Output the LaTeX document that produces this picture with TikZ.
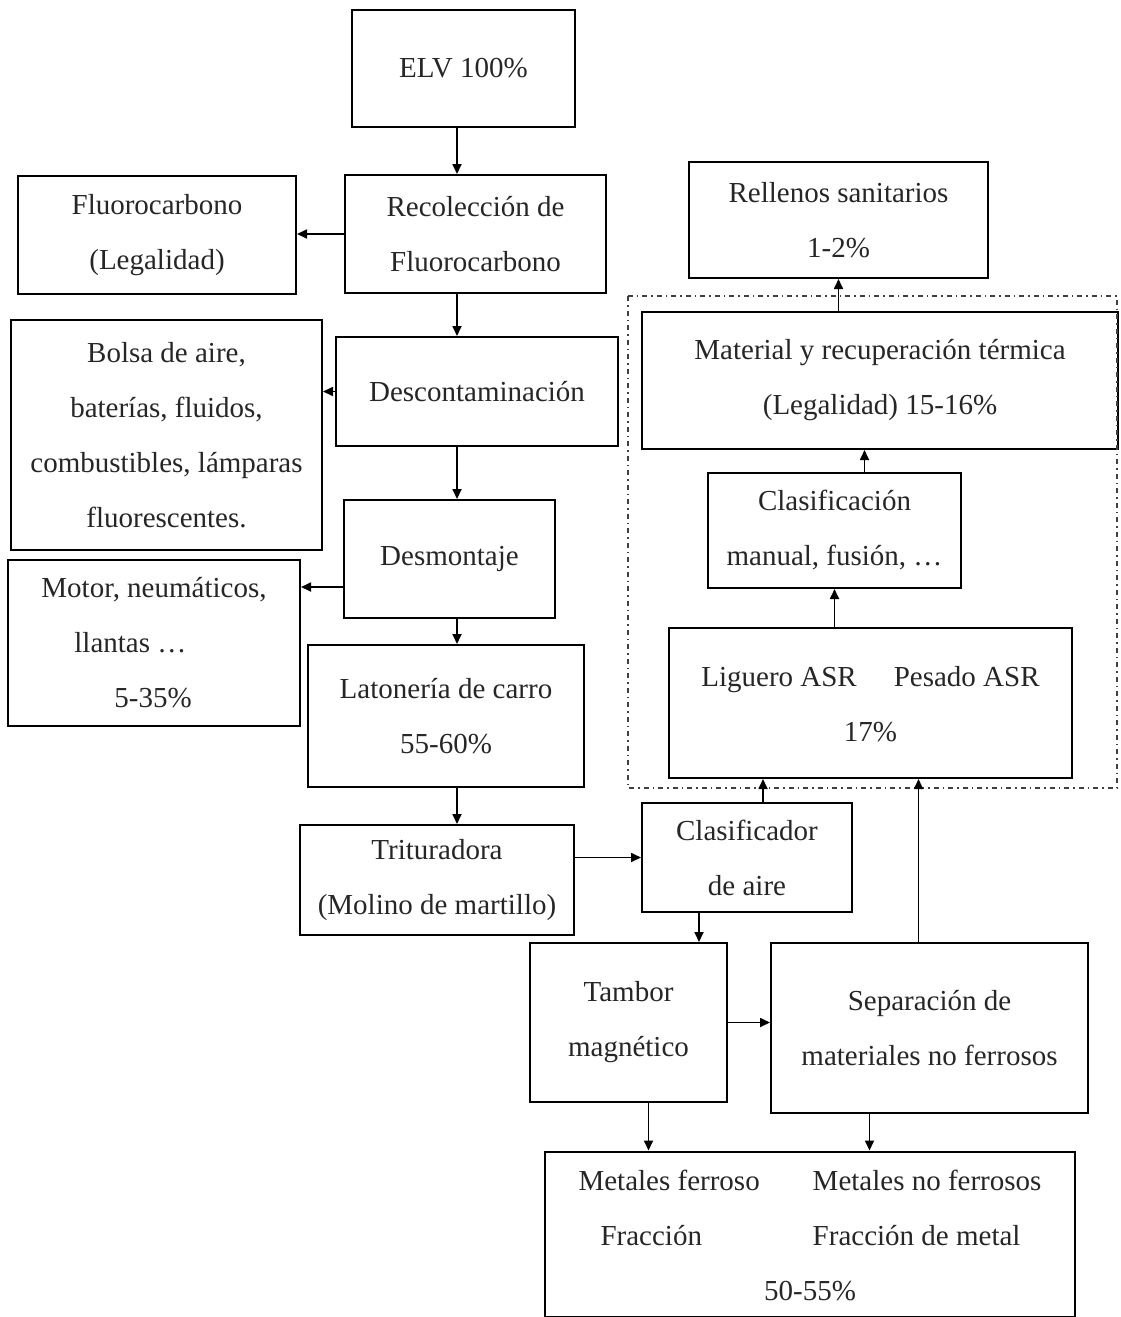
\documentclass[tikz,border=0pt]{standalone}
\usepackage{fontspec}
\setmainfont{Liberation Serif}
\usetikzlibrary{arrows.meta,calc}
\tikzset{
  box/.style={draw, line width=2pt, inner sep=0pt, align=center,
    font=\fontsize{29}{55}\selectfont, text=black!85},
  arr/.style={-{Triangle[length=10pt,width=9pt]}, line width=1.7pt},
  frame/.style={line width=1.8pt, black!75, dash pattern=on 5pt off 4pt on 1.5pt off 4pt}
}
\begin{document}
\begin{tikzpicture}[x=1pt, y=-1pt]
\useasboundingbox (0,0) rectangle (1120,1317);
% left column
\node[box, minimum width=223, minimum height=117] (elv) at (463.5,68.5) {ELV 100\%};
\node[box, minimum width=261, minimum height=118] (rec) at (475.5,234) {Recolección de\\Fluorocarbono};
\node[box, minimum width=278, minimum height=118] (fluo) at (157,235) {Fluorocarbono\\(Legalidad)};
\node[box, minimum width=282, minimum height=109] (desc) at (477,391.5) {Descontaminación};
\node[box, minimum width=311, minimum height=230] (bolsa) at (166.5,435) {Bolsa de aire,\\baterías, fluidos,\\combustibles, lámparas\\fluorescentes.};
\node[box, minimum width=211, minimum height=118] (desm) at (449.5,559) {Desmontaje};
\node[box, minimum width=292, minimum height=166, align=left] (motor) at (154,643) {Motor, neumáticos,\\\hspace*{33pt}llantas \dots\\\hspace*{73pt}5-35\%};
\node[box, minimum width=276, minimum height=142] (lat) at (446,716) {Latonería de carro\\55-60\%};
\node[box, minimum width=274, minimum height=110] (trit) at (437,880) {Trituradora\\(Molino de martillo)};
% lower part
\node[box, minimum width=210, minimum height=109] (clas) at (747,857.5) {Clasificador\\de aire};
\node[box, minimum width=197, minimum height=159] (tamb) at (628.5,1022.5) {Tambor\\magnético};
\node[box, minimum width=317, minimum height=170] (sep) at (929.5,1028) {Separación de\\materiales no ferrosos};
\node[box, minimum width=530, minimum height=162] (met) at (810,1234) {%
  \begin{tabular}{@{}l@{\hspace{53pt}}l@{}}
  Metales ferroso & Metales no ferrosos\\
  \hspace*{22pt}Fracción & Fracción de metal\\
  \multicolumn{2}{c}{50-55\%}
  \end{tabular}};
% right column
\node[box, minimum width=403, minimum height=150] (asr) at (870.5,703) {%
  \begin{tabular}{@{}l@{\hspace{37pt}}l@{}}
  Liguero ASR & Pesado ASR\\
  \multicolumn{2}{c}{17\%}
  \end{tabular}};
\node[box, minimum width=253, minimum height=115] (clasif) at (834.5,530.5) {Clasificación\\manual, fusión, \dots};
\node[box, minimum width=476, minimum height=137] (mat) at (880,380.5) {Material y recuperación térmica\\(Legalidad) 15-16\%};
\node[box, minimum width=299, minimum height=116] (rell) at (838.5,220) {Rellenos sanitarios\\1-2\%};
\draw[frame] (628,296) rectangle (1117,788);
% connectors
\coordinate (spine) at (457,0);
\draw[arr] (spine |- elv.south) -- (spine |- rec.north);
\draw[arr] (spine |- rec.south) -- (spine |- desc.north);
\draw[arr] (spine |- desc.south) -- (spine |- desm.north);
\draw[arr] (spine |- desm.south) -- (spine |- lat.north);
\draw[arr] (spine |- lat.south) -- (spine |- trit.north);
\draw[arr] (rec.west) -- (rec.west -| fluo.east);
\draw[arr] (desc.west) -- (desc.west -| bolsa.east);
\coordinate (desmout) at ($(desm.west)+(0,28)$);
\draw[arr] (desmout) -- (desmout -| motor.east);
\draw[arr] (clas.west -| trit.east) -- (clas.west);
\coordinate (clasup) at ($(clas.north)+(16,0)$);
\draw[arr] (clasup) -- (clasup |- asr.south);
\coordinate (clasdown) at ($(clas.south)+(-48,0)$);
\draw[arr] (clasdown) -- (clasdown |- tamb.north);
\draw[arr] (tamb.east) -- (tamb.east -| sep.west);
\coordinate (sepup) at ($(sep.north)+(-11,0)$);
\draw[arr] (sepup) -- (sepup |- asr.south);
\coordinate (tambdown) at ($(tamb.south)+(20,0)$);
\draw[arr] (tambdown) -- (tambdown |- met.north);
\coordinate (sepdown) at ($(sep.south)+(-60,0)$);
\draw[arr] (sepdown) -- (sepdown |- met.north);
\draw[arr] (clasif.south |- asr.north) -- (clasif.south);
\coordinate (clasifup) at ($(clasif.north)+(30,0)$);
\draw[arr] (clasifup) -- (clasifup |- mat.south);
\draw[arr] (rell.south |- mat.north) -- (rell.south);
\end{tikzpicture}
\end{document}
